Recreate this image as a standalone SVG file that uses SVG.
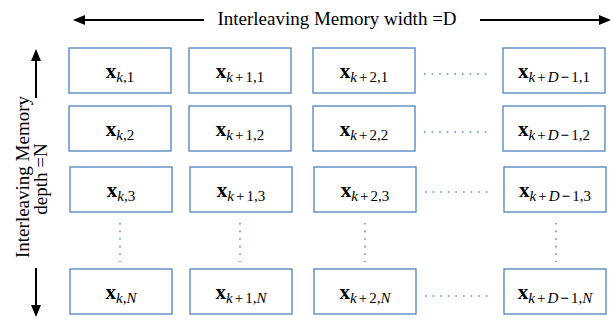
<svg xmlns="http://www.w3.org/2000/svg" width="616" height="322" viewBox="0 0 616 322">
<style>
.box{fill:#fff;stroke:#4F81BD;stroke-width:1.3}
.m{font-family:"Liberation Serif","Times New Roman",serif;fill:#000}
.bx{font-weight:bold;font-size:21px}
.sub{font-size:15px}
.it{font-style:italic}
.lbl{font-family:"Liberation Serif","Times New Roman",serif;font-size:19px;fill:#000}
.arr{stroke:#000;stroke-width:2;fill:none;marker-end:url(#ah)}
.dh{stroke:#5B8FD0;stroke-width:1.6;stroke-dasharray:1.6 6;fill:none}
</style>
<defs>
<marker id="ah" markerWidth="6" markerHeight="5" refX="5" refY="2.5" orient="auto" markerUnits="strokeWidth">
<path d="M0,0 L6,2.5 L0,5 Z" fill="#000"/>
</marker>
</defs>
<rect width="616" height="322" fill="#fff"/>
<text class="lbl" x="337" y="25" text-anchor="middle">Interleaving Memory width =D</text>
<text class="lbl" text-anchor="middle" transform="translate(29,177) rotate(-90)">Interleaving Memory</text>
<text class="lbl" text-anchor="middle" transform="translate(47,179) rotate(-90)">depth =N</text>
<g id="connectors">
<line class="arr" x1="204" y1="20" x2="75" y2="20"/>
<line class="arr" x1="480" y1="20" x2="609" y2="20"/>
<line class="arr" x1="36" y1="98" x2="36" y2="51"/>
<line class="arr" x1="36" y1="268" x2="36" y2="315"/>
<line class="dh" x1="424" y1="74" x2="492" y2="74"/>
<line class="dh" x1="424" y1="132" x2="492" y2="132"/>
<line class="dh" x1="425" y1="192" x2="493" y2="192"/>
<line class="dh" x1="425" y1="296" x2="493" y2="296"/>
<line class="dh" x1="120" y1="223" x2="120" y2="262"/>
<line class="dh" x1="240" y1="223" x2="240" y2="262"/>
<line class="dh" x1="365" y1="223" x2="365" y2="262"/>
<line class="dh" x1="556" y1="223" x2="556" y2="262"/>
</g>
<g id="r1c1"><rect class="box" x="69" y="48" width="102" height="45"/><text class="m" x="120" y="78" text-anchor="middle"><tspan class="bx">x</tspan><tspan class="sub" dy="4"><tspan class="it">k</tspan>,1</tspan></text></g>
<g id="r1c2"><rect class="box" x="189" y="48" width="102" height="45"/><text class="m" x="240" y="78" text-anchor="middle"><tspan class="bx">x</tspan><tspan class="sub" dy="4"><tspan class="it">k</tspan><tspan dx="2">+</tspan><tspan dx="2">1,1</tspan></tspan></text></g>
<g id="r1c3"><rect class="box" x="313" y="48" width="102" height="45"/><text class="m" x="364" y="78" text-anchor="middle"><tspan class="bx">x</tspan><tspan class="sub" dy="4"><tspan class="it">k</tspan><tspan dx="2">+</tspan><tspan dx="2">2,1</tspan></tspan></text></g>
<g id="r1c4"><rect class="box" x="503" y="48" width="102" height="45"/><text class="m" x="554" y="78" text-anchor="middle"><tspan class="bx">x</tspan><tspan class="sub" dy="4"><tspan class="it">k</tspan><tspan dx="2">+</tspan><tspan class="it" dx="2">D</tspan><tspan font-weight="bold" dx="2">−</tspan><tspan dx="2">1,1</tspan></tspan></text></g>
<g id="r2c1"><rect class="box" x="69" y="106" width="102" height="45"/><text class="m" x="120" y="136" text-anchor="middle"><tspan class="bx">x</tspan><tspan class="sub" dy="4"><tspan class="it">k</tspan>,2</tspan></text></g>
<g id="r2c2"><rect class="box" x="189" y="106" width="102" height="45"/><text class="m" x="240" y="136" text-anchor="middle"><tspan class="bx">x</tspan><tspan class="sub" dy="4"><tspan class="it">k</tspan><tspan dx="2">+</tspan><tspan dx="2">1,2</tspan></tspan></text></g>
<g id="r2c3"><rect class="box" x="313" y="106" width="102" height="45"/><text class="m" x="364" y="136" text-anchor="middle"><tspan class="bx">x</tspan><tspan class="sub" dy="4"><tspan class="it">k</tspan><tspan dx="2">+</tspan><tspan dx="2">2,2</tspan></tspan></text></g>
<g id="r2c4"><rect class="box" x="503" y="106" width="102" height="45"/><text class="m" x="554" y="136" text-anchor="middle"><tspan class="bx">x</tspan><tspan class="sub" dy="4"><tspan class="it">k</tspan><tspan dx="2">+</tspan><tspan class="it" dx="2">D</tspan><tspan font-weight="bold" dx="2">−</tspan><tspan dx="2">1,2</tspan></tspan></text></g>
<g id="r3c1"><rect class="box" x="70" y="167" width="102" height="45"/><text class="m" x="121" y="197" text-anchor="middle"><tspan class="bx">x</tspan><tspan class="sub" dy="4"><tspan class="it">k</tspan>,3</tspan></text></g>
<g id="r3c2"><rect class="box" x="190" y="167" width="102" height="45"/><text class="m" x="241" y="197" text-anchor="middle"><tspan class="bx">x</tspan><tspan class="sub" dy="4"><tspan class="it">k</tspan><tspan dx="2">+</tspan><tspan dx="2">1,3</tspan></tspan></text></g>
<g id="r3c3"><rect class="box" x="314" y="167" width="102" height="45"/><text class="m" x="365" y="197" text-anchor="middle"><tspan class="bx">x</tspan><tspan class="sub" dy="4"><tspan class="it">k</tspan><tspan dx="2">+</tspan><tspan dx="2">2,3</tspan></tspan></text></g>
<g id="r3c4"><rect class="box" x="504" y="167" width="102" height="45"/><text class="m" x="555" y="197" text-anchor="middle"><tspan class="bx">x</tspan><tspan class="sub" dy="4"><tspan class="it">k</tspan><tspan dx="2">+</tspan><tspan class="it" dx="2">D</tspan><tspan font-weight="bold" dx="2">−</tspan><tspan dx="2">1,3</tspan></tspan></text></g>
<g id="r4c1"><rect class="box" x="70" y="269" width="102" height="45"/><text class="m" x="121" y="299" text-anchor="middle"><tspan class="bx">x</tspan><tspan class="sub" dy="4"><tspan class="it">k</tspan>,<tspan class="it">N</tspan></tspan></text></g>
<g id="r4c2"><rect class="box" x="190" y="269" width="102" height="45"/><text class="m" x="241" y="299" text-anchor="middle"><tspan class="bx">x</tspan><tspan class="sub" dy="4"><tspan class="it">k</tspan><tspan dx="2">+</tspan><tspan dx="2">1,</tspan><tspan class="it">N</tspan></tspan></text></g>
<g id="r4c3"><rect class="box" x="314" y="269" width="102" height="45"/><text class="m" x="365" y="299" text-anchor="middle"><tspan class="bx">x</tspan><tspan class="sub" dy="4"><tspan class="it">k</tspan><tspan dx="2">+</tspan><tspan dx="2">2,</tspan><tspan class="it">N</tspan></tspan></text></g>
<g id="r4c4"><rect class="box" x="504" y="269" width="102" height="45"/><text class="m" x="555" y="299" text-anchor="middle"><tspan class="bx">x</tspan><tspan class="sub" dy="4"><tspan class="it">k</tspan><tspan dx="2">+</tspan><tspan class="it" dx="2">D</tspan><tspan font-weight="bold" dx="2">−</tspan><tspan dx="2">1,</tspan><tspan class="it">N</tspan></tspan></text></g>
</svg>
